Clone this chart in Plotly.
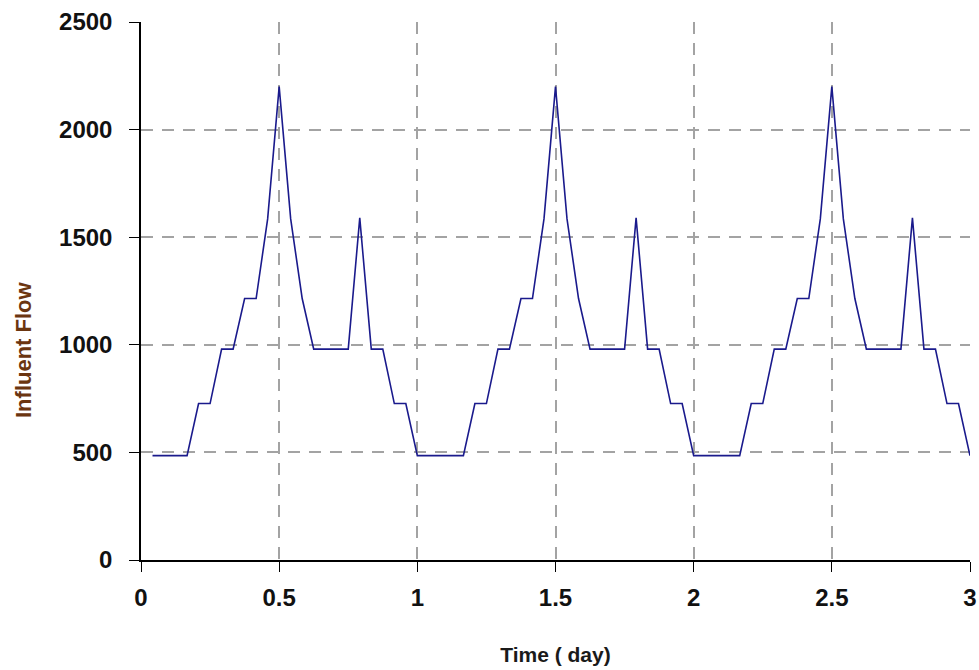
import plotly.graph_objects as go

# hour of the record (1..72) and influent flow
hours = list(range(1, 73))
flow = [
    485, 485, 485, 485, 727, 727, 980, 980, 1215, 1215, 1585, 2200,
    1585, 1215, 980, 980, 980, 980, 1590, 980, 980, 727, 727, 485,
    485, 485, 485, 485, 727, 727, 980, 980, 1215, 1215, 1585, 2200,
    1585, 1215, 980, 980, 980, 980, 1590, 980, 980, 727, 727, 485,
    485, 485, 485, 485, 727, 727, 980, 980, 1215, 1215, 1585, 2200,
    1585, 1215, 980, 980, 980, 980, 1590, 980, 980, 727, 727, 485,
]
time_day = [h / 24 for h in hours]

x_ticks = [0, 0.5, 1, 1.5, 2, 2.5, 3]
x_labels = ["0", "0.5", "1", "1.5", "2", "2.5", "3"]
y_ticks = [0, 500, 1000, 1500, 2000, 2500]

FONT = "Liberation Sans, Arial, sans-serif"

fig = go.Figure()
fig.add_trace(go.Scatter(
    x=time_day, y=flow, mode="lines",
    line=dict(color="#1a1a8c", width=1.6),
    showlegend=False,
))

fig.update_layout(
    width=979, height=670,
    margin=dict(l=141, r=9, t=22, b=110),
    plot_bgcolor="white", paper_bgcolor="white",
    xaxis=dict(
        range=[0, 3], tickvals=x_ticks, ticktext=x_labels,
        automargin=False,
        showline=True, linecolor="black", linewidth=1.5,
        ticks="outside", ticklen=10, tickcolor="black", tickwidth=1.2,
        showgrid=True, gridcolor="#a3a3a3", gridwidth=1.5, griddash="12px,9px",
        zeroline=False,
        tickfont=dict(family=FONT, size=24, color="#111111", weight="bold"),
        ticklabelstandoff=5,
        title=dict(text="<b>Time ( day)</b>", font=dict(family=FONT, size=21, color="#1a1a1a"), standoff=38),
    ),
    yaxis=dict(
        range=[0, 2500], tickvals=y_ticks,
        automargin=False,
        showline=True, linecolor="black", linewidth=1.5,
        ticks="outside", ticklen=10, tickcolor="black", tickwidth=1.2,
        showgrid=True, gridcolor="#a3a3a3", gridwidth=1.5, griddash="12px,9px",
        zeroline=False,
        tickfont=dict(family=FONT, size=24, color="#111111", weight="bold"),
        ticklabelstandoff=12,
    ),
    annotations=[dict(
        text="<b>Influent Flow</b>", textangle=-90,
        xref="paper", yref="paper",
        x=(23 - 141) / 829, y=(560 - 350) / 538,
        xanchor="center", yanchor="middle", showarrow=False,
        font=dict(family=FONT, size=22, color="#6b3510"),
    )],
)

fig.write_html("out.html")
